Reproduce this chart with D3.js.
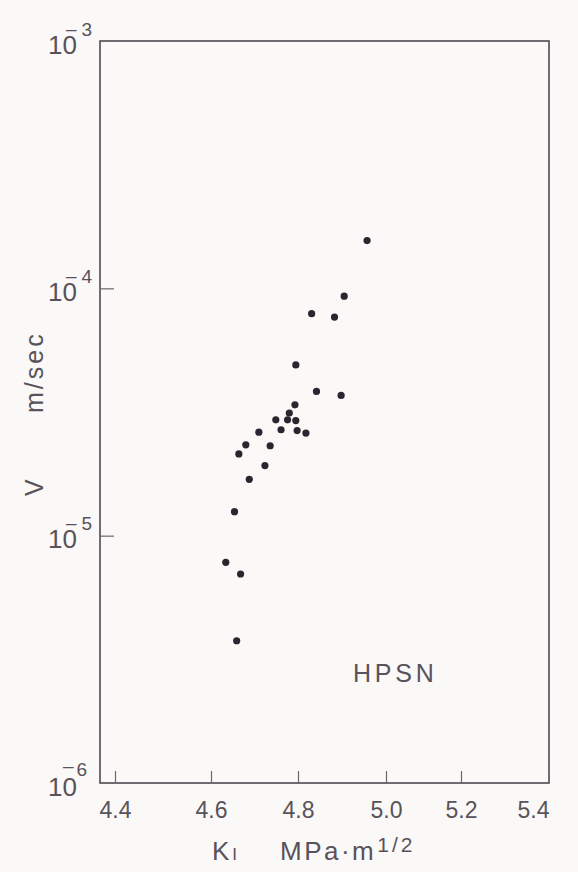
<!DOCTYPE html>
<html>
<head>
<meta charset="utf-8">
<script src="https://cdn.jsdelivr.net/npm/d3@7"></script>
<style>
  html, body { margin: 0; padding: 0; background: #fbf8f8; }
  svg { display: block; }
  text { font-family: "Liberation Sans", Arial, sans-serif; fill: #58535a; }
</style>
</head>
<body>
<svg id="chart" width="578" height="872"></svg>
<script>
// Data (K_I in MPa·m^1/2, V in m/sec)
const kValues = [4.957, 4.905, 4.831, 4.883, 4.795, 4.842, 4.898, 4.793, 4.780, 4.749,
                 4.776, 4.795, 4.710, 4.761, 4.798, 4.818, 4.680, 4.736, 4.664, 4.724,
                 4.688, 4.654, 4.634, 4.668, 4.659];
const vValues = [1.56e-4, 9.3e-5, 7.9e-5, 7.65e-5, 4.9e-5, 3.83e-5, 3.69e-5, 3.38e-5, 3.13e-5, 2.94e-5,
                 2.94e-5, 2.92e-5, 2.62e-5, 2.68e-5, 2.66e-5, 2.60e-5, 2.33e-5, 2.31e-5, 2.14e-5, 1.92e-5,
                 1.69e-5, 1.25e-5, 7.8e-6, 7.0e-6, 3.76e-6];
const xTickValues = [4.4, 4.6, 4.8, 5.0, 5.2, 5.4];
const yTickValues = [1e-3, 1e-4, 1e-5, 1e-6];
const seriesLabel = "HPSN";

const svg = d3.select("#chart");
const frame = { left: 100, right: 549, top: 41, bottom: 783 };

// The printed axis is slightly irregular; a piecewise linear scale follows it.
const x = d3.scaleLinear()
  .domain(xTickValues)
  .range([115, 211, 298, 386, 461, 533]);
const y = d3.scaleLog()
  .domain([1e-6, 1e-3])
  .range([frame.bottom, frame.top]);

// Frame
svg.append("rect")
  .attr("x", frame.left).attr("y", frame.top)
  .attr("width", frame.right - frame.left).attr("height", frame.bottom - frame.top)
  .attr("fill", "none").attr("stroke", "#4e4a50").attr("stroke-width", 1.6);

// X axis
const gx = svg.append("g")
  .attr("transform", `translate(0,${frame.bottom})`)
  .call(d3.axisBottom(x).tickValues(xTickValues).tickSizeInner(-12).tickSizeOuter(0)
        .tickPadding(19).tickFormat(d3.format(".1f")));
gx.select(".domain").remove();
gx.selectAll(".tick line").attr("stroke", "#6a666c").attr("stroke-width", 1.2)
  .attr("display", d => d >= 5.4 ? "none" : null);
gx.selectAll(".tick text")
  .attr("font-size", 23).attr("fill", "#58535a")
  .attr("font-family", "Liberation Sans, Arial, sans-serif");

// Y axis
const gy = svg.append("g")
  .attr("transform", `translate(${frame.left},0)`)
  .call(d3.axisLeft(y).tickValues(yTickValues).tickSizeInner(-14).tickSizeOuter(0)
        .tickFormat(() => ""));
gy.select(".domain").remove();
gy.selectAll(".tick line").attr("stroke", "#6a666c").attr("stroke-width", 1.2)
  .attr("display", d => (d === 1e-3 || d === 1e-6) ? "none" : null);
gy.selectAll(".tick text").remove();
gy.selectAll(".tick").each(function(d) {
  const g = d3.select(this);
  const e = Math.round(-Math.log10(d));
  const t = g.append("text")
    .attr("x", -52).attr("y", 12)
    .attr("text-anchor", "start");
  t.append("tspan").attr("font-size", 26).text("10");
  t.append("tspan").attr("font-size", 19)
    .attr("dx", e === 6 ? -14 : -11).attr("dy", e === 6 ? -24 : -19).text("–");
  t.append("tspan").attr("font-size", 19)
    .attr("dx", e === 6 ? 3 : 5).attr("dy", e === 6 ? 4 : 1).text(String(e));
});

// Points
svg.append("g")
  .selectAll("circle")
  .data(kValues.map((k, i) => ({ k, v: vValues[i] })))
  .join("circle")
  .attr("cx", d => x(d.k))
  .attr("cy", d => y(d.v))
  .attr("r", 3.6)
  .attr("fill", "#2b2530");

// Series label
svg.append("text")
  .attr("x", 353).attr("y", 682)
  .attr("font-size", 25).attr("letter-spacing", 3.8)
  .text(seriesLabel);

// X axis title: K_I  MPa·m^1/2
const xt = svg.append("text").attr("y", 860).attr("font-size", 26);
xt.append("tspan").attr("x", 212).text("K");
xt.append("tspan").attr("font-size", 17).attr("dx", 3).text("I");
xt.append("tspan").attr("x", 280).attr("letter-spacing", 2.5).text("MPa·m");
xt.append("tspan").attr("font-size", 21).attr("letter-spacing", 3)
  .attr("dx", 1).attr("dy", -8).text("1/2");

// Y axis title
svg.append("text")
  .attr("transform", "translate(43,496) rotate(-90)")
  .attr("font-size", 25).text("V");
svg.append("text")
  .attr("transform", "translate(43,413) rotate(-90)")
  .attr("font-size", 25).attr("letter-spacing", 3).text("m/sec");
</script>
</body>
</html>
